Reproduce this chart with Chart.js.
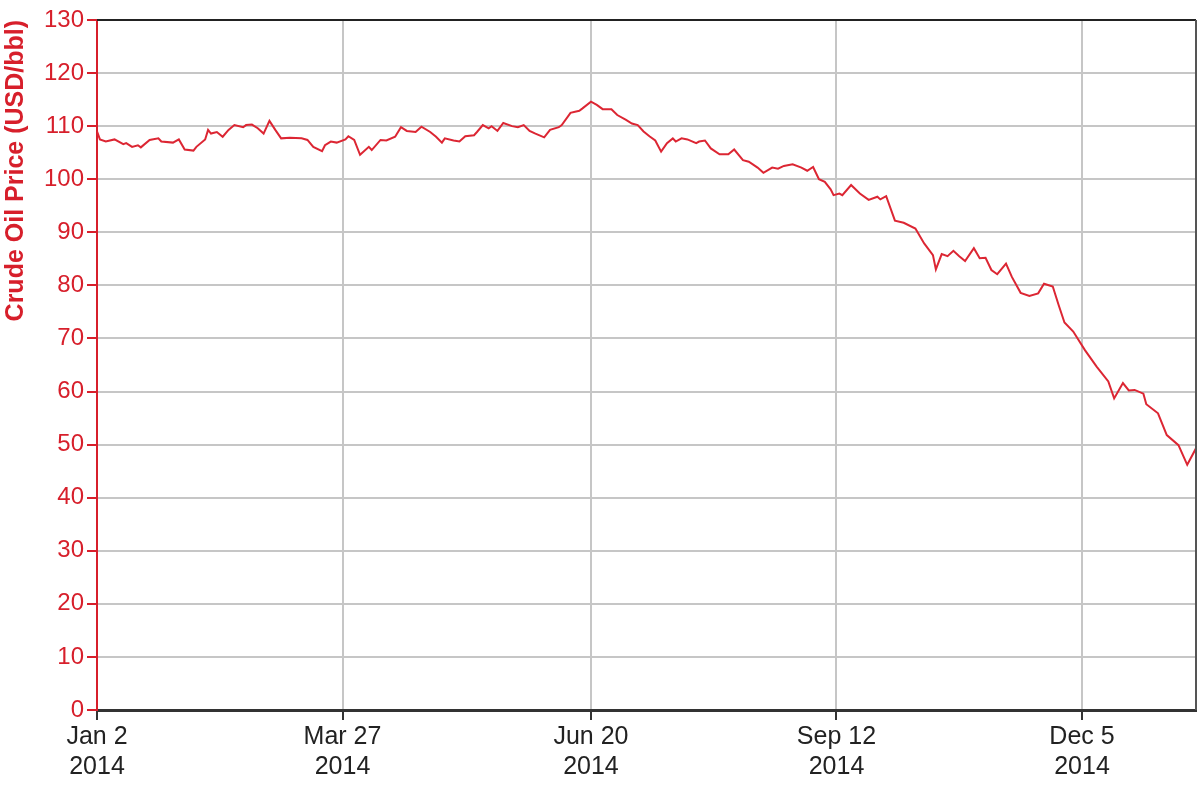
<!DOCTYPE html>
<html>
<head>
<meta charset="utf-8">
<title>Crude Oil Price 2014</title>
<script src="https://cdn.jsdelivr.net/npm/chart.js@4/dist/chart.umd.min.js"></script>
<style>
  html, body { margin: 0; padding: 0; background: #fff; }
  #chart { display: block; }
</style>
</head>
<body>
<canvas id="chart" width="1200" height="800"></canvas>
<script>
// jours depuis le 2 janvier 2014
const days = [
  0, 1, 3, 6, 9, 10, 12, 14, 15, 18, 21, 22, 26, 28, 30, 33, 34, 37, 38, 39,
  41, 43, 45, 47, 50, 51, 53, 55, 57, 59, 61, 63, 66, 70, 72, 74, 77, 78, 80, 82,
  85, 86, 88, 90, 93, 94, 97, 99, 102, 104, 106, 109, 111, 114, 116, 118, 119, 122, 124, 126,
  129, 130, 132, 134, 135, 137, 139, 142, 144, 146, 148, 150, 153, 155, 158, 159, 162, 165, 166, 169,
  171, 173, 176, 178, 181, 183, 185, 187, 189, 191, 193, 195, 197, 198, 200, 202, 205, 206, 208, 210,
  213, 216, 218, 221, 223, 226, 228, 231, 233, 235, 238, 241, 243, 245, 247, 249, 251, 252, 254, 255,
  258, 261, 264, 267, 268, 270, 273, 276, 280, 283, 286, 287, 289, 291, 293, 295, 297, 300, 302, 304,
  306, 308, 311, 313, 316, 319, 322, 324, 327, 329, 331, 334, 338, 342, 346, 348, 351, 353, 355, 358,
  359, 363, 366, 370, 373, 376
];

// prix du brut (USD/bbl)
const prices = [
  109.0, 107.5, 107.1, 107.5, 106.6, 106.8, 106.1, 106.4, 106.0, 107.4, 107.7, 107.1, 106.9, 107.5, 105.6, 105.4, 106.1, 107.5, 109.3, 108.6,
  108.9, 108.0, 109.3, 110.2, 109.8, 110.2, 110.3, 109.6, 108.6, 111.0, 109.3, 107.7, 107.8, 107.7, 107.4, 106.1, 105.3, 106.4, 107.1, 106.9,
  107.5, 108.1, 107.4, 104.6, 106.1, 105.5, 107.4, 107.3, 108.0, 109.8, 109.1, 108.9, 109.9, 108.9, 108.0, 106.9, 107.7, 107.3, 107.1, 108.1,
  108.3, 108.9, 110.2, 109.6, 110.0, 109.1, 110.6, 110.0, 109.8, 110.2, 109.1, 108.6, 107.9, 109.3, 109.8, 110.2, 112.5, 112.9, 113.3, 114.6,
  114.0, 113.2, 113.2, 112.1, 111.2, 110.5, 110.2, 109.0, 108.1, 107.3, 105.2, 106.8, 107.7, 107.1, 107.7, 107.5, 106.8, 107.1, 107.3, 105.8,
  104.7, 104.7, 105.6, 103.6, 103.3, 102.2, 101.2, 102.2, 102.0, 102.5, 102.8, 102.2, 101.6, 102.3, 100.0, 99.5, 98.1, 97.0, 97.3, 97.0,
  98.9, 97.3, 96.1, 96.7, 96.2, 96.8, 92.2, 91.8, 90.7, 87.9, 85.7, 83.0, 85.9, 85.5, 86.5, 85.5, 84.6, 87.0, 85.1, 85.2,
  82.9, 82.1, 84.1, 81.6, 78.6, 78.0, 78.5, 80.3, 79.8, 76.3, 73.0, 71.3, 67.8, 64.7, 61.9, 58.7, 61.6, 60.2, 60.3, 59.6,
  57.6, 55.9, 51.8, 49.9, 46.2, 49.3
];

// graduations de l'axe x
const tickDays = [0, 84, 169, 253, 337];
const tickLabels = [['Jan 2', '2014'], ['Mar 27', '2014'], ['Jun 20', '2014'], ['Sep 12', '2014'], ['Dec 5', '2014']];

const ROUGE = '#d71f2b';

const points = [];
for (let i = 0; i < days.length; i++) {
  points.push({ x: days[i], y: prices[i] });
}

// cadre haut et droite du graphique
const cadre = {
  id: 'cadre',
  afterDraw(chart) {
    const a = chart.chartArea;
    const ctx = chart.ctx;
    ctx.save();
    ctx.lineWidth = 2;
    ctx.strokeStyle = '#222';
    ctx.beginPath();
    ctx.moveTo(a.left, a.top);
    ctx.lineTo(a.right, a.top);
    ctx.stroke();
    ctx.strokeStyle = '#555';
    ctx.beginPath();
    ctx.moveTo(a.right, a.top);
    ctx.lineTo(a.right, a.bottom);
    ctx.stroke();
    ctx.restore();
  }
};

new Chart(document.getElementById('chart'), {
  type: 'line',
  data: {
    datasets: [{
      label: 'Crude Oil Price',
      data: points,
      borderColor: '#dc2633',
      borderWidth: 2,
      pointRadius: 0,
      tension: 0,
      fill: false
    }]
  },
  options: {
    responsive: false,
    devicePixelRatio: 1,
    animation: false,
    layout: { padding: { top: 20, right: 4, bottom: 0, left: 0 } },
    plugins: {
      legend: { display: false },
      tooltip: { enabled: false }
    },
    scales: {
      x: {
        type: 'linear',
        min: 0,
        max: 376,
        afterBuildTicks: (s) => { s.ticks = tickDays.map(v => ({ value: v })); },
        afterFit: (s) => { s.height = 90; },
        grid: { color: '#c6c6c6', lineWidth: 2, tickColor: '#333', tickLength: 10, drawOnChartArea: true },
        border: { color: '#333', width: 3 },
        ticks: {
          color: '#222',
          font: { family: 'Liberation Sans', size: 25, lineHeight: 1.2 },
          padding: 2,
          maxRotation: 0,
          callback: (v) => {
            const i = tickDays.indexOf(v);
            return i >= 0 ? tickLabels[i] : '';
          }
        }
      },
      y: {
        min: 0,
        max: 130,
        afterFit: (s) => { s.width = 97; },
        grid: { color: '#c6c6c6', lineWidth: 2, tickColor: ROUGE, tickLength: 10 },
        border: { color: ROUGE, width: 2 },
        ticks: {
          stepSize: 10,
          color: ROUGE,
          padding: 3,
          font: { family: 'Liberation Sans', size: 24 }
        },
        title: {
          display: true,
          text: 'Crude Oil Price (USD/bbl)',
          color: ROUGE,
          align: 'end',
          padding: { top: 1, bottom: 0 },
          font: { family: 'Liberation Sans', size: 25, weight: 'bold' }
        }
      }
    }
  },
  plugins: [cadre]
});
</script>
</body>
</html>
